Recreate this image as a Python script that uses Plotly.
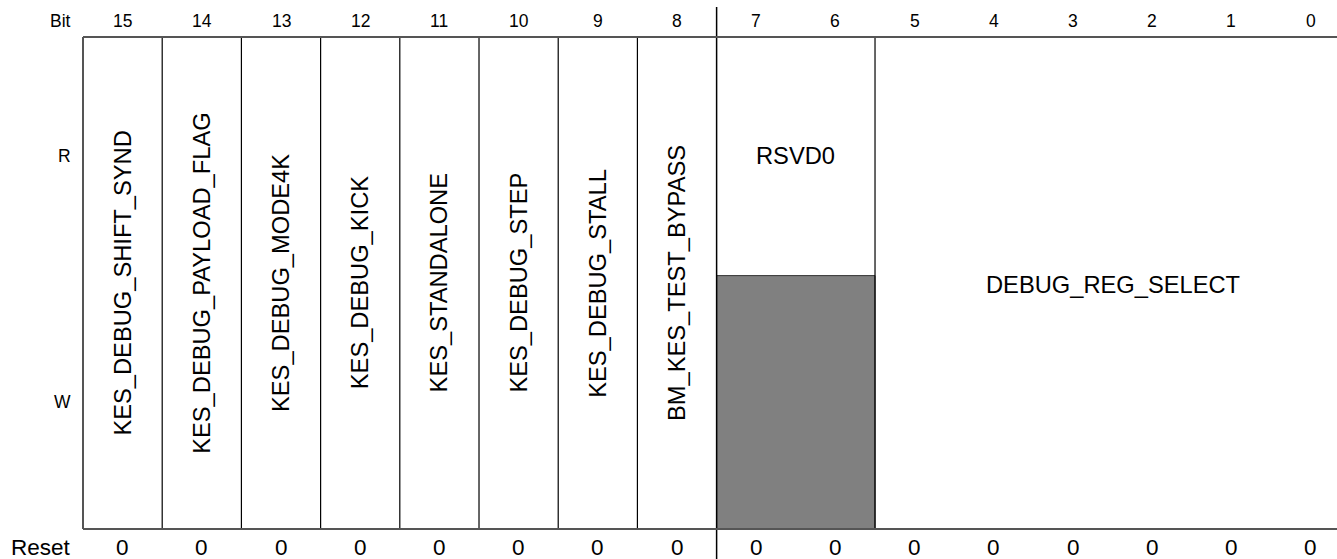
import plotly.graph_objects as go

# ---- data ----
bits = list(range(15, -1, -1))
reset_values = [0] * 16
field_names = ["KES_DEBUG_SHIFT_SYND", "KES_DEBUG_PAYLOAD_FLAG", "KES_DEBUG_MODE4K",
               "KES_DEBUG_KICK", "KES_STANDALONE", "KES_DEBUG_STEP", "KES_DEBUG_STALL",
               "BM_KES_TEST_BYPASS", "RSVD0", "DEBUG_REG_SELECT"]
field_msb = [15, 14, 13, 12, 11, 10, 9, 8, 7, 5]
field_lsb = [15, 14, 13, 12, 11, 10, 9, 8, 6, 0]
field_access = ["RW", "RW", "RW", "RW", "RW", "RW", "RW", "RW", "R", "RW"]
row_labels = ["R", "W"]

# ---- style ----
FONT = "Liberation Sans, Arial, Helvetica, sans-serif"
BORDER = "#555555"
SPLIT = 0.515          # boundary between read and write halves (axis units)
TOP, BOTTOM = 1.0, 0.0

fig = go.Figure()
shapes = []
annotations = []

left_edge = max(bits) + 0.5
right_edge = min(bits) - 0.5

# gray (no-write) areas of read-only fields
for name, msb, lsb, acc in zip(field_names, field_msb, field_lsb, field_access):
    if acc == "R":
        shapes.append(dict(type="rect", xref="x", yref="y", x0=msb + 0.5, x1=lsb - 0.5,
                           y0=BOTTOM, y1=SPLIT, fillcolor="#808080",
                           line=dict(color="#333333", width=1), layer="below"))

# field dividers
for i, (msb, lsb) in enumerate(zip(field_msb, field_lsb)):
    if i == 0:
        continue
    xb = msb + 0.5
    if xb == 7.5:
        # byte boundary, extends past the box
        shapes.append(dict(type="line", xref="x", yref="y", x0=xb, x1=xb, y0=1.061, y1=-0.07,
                           line=dict(color="#000000", width=1.5)))
    else:
        shapes.append(dict(type="line", xref="x", yref="y", x0=xb, x1=xb, y0=BOTTOM, y1=TOP,
                           line=dict(color="#000000", width=1.2)))

# frame: top, bottom, left
shapes.append(dict(type="line", xref="x", yref="y", x0=left_edge, x1=right_edge, y0=TOP, y1=TOP,
                   line=dict(color=BORDER, width=2)))
shapes.append(dict(type="line", xref="x", yref="y", x0=left_edge, x1=right_edge, y0=BOTTOM, y1=BOTTOM,
                   line=dict(color=BORDER, width=2)))
shapes.append(dict(type="line", xref="x", yref="y", x0=left_edge, x1=left_edge, y0=BOTTOM, y1=TOP,
                   line=dict(color=BORDER, width=2)))

# field names
for name, msb, lsb, acc in zip(field_names, field_msb, field_lsb, field_access):
    xc = (msb + lsb) / 2
    if acc == "R":
        yc, ang = (SPLIT + TOP) / 2, 0
    elif msb == lsb:
        yc, ang = (TOP + BOTTOM) / 2, -90
    else:
        yc, ang = (TOP + BOTTOM) / 2 - 0.004, 0
    annotations.append(dict(x=xc, y=yc, xref="x", yref="y", text=name, showarrow=False,
                            textangle=ang, xanchor="center", yanchor="middle",
                            font=dict(family=FONT, size=23.7, color="#000000")))

# bit numbers and reset values
for b, r in zip(bits, reset_values):
    annotations.append(dict(x=b, y=1.0325, xref="x", yref="y", text=str(b), showarrow=False,
                            xanchor="center", yanchor="middle",
                            font=dict(family=FONT, size=17.5, color="#000000")))
    annotations.append(dict(x=b, y=-0.0386, xref="x", yref="y", text=str(r), showarrow=False,
                            xanchor="center", yanchor="middle",
                            font=dict(family=FONT, size=22.5, color="#000000")))

# row labels
label_x = left_edge + 0.13
annotations.append(dict(x=label_x, y=1.0325, xref="x", yref="y", text="Bit", showarrow=False,
                        xanchor="right", yanchor="middle",
                        font=dict(family=FONT, size=17.5, color="#000000")))
annotations.append(dict(x=label_x, y=-0.0386, xref="x", yref="y", text="Reset", showarrow=False,
                        xanchor="right", yanchor="middle",
                        font=dict(family=FONT, size=22.5, color="#000000")))
annotations.append(dict(x=label_x, y=(SPLIT + TOP) / 2, xref="x", yref="y", text=row_labels[0],
                        showarrow=False, xanchor="right", yanchor="middle",
                        font=dict(family=FONT, size=17.5, color="#000000")))
annotations.append(dict(x=label_x, y=(SPLIT + BOTTOM) / 2, xref="x", yref="y", text=row_labels[1],
                        showarrow=False, xanchor="right", yanchor="middle",
                        font=dict(family=FONT, size=17.5, color="#000000")))

fig.update_layout(
    width=1337, height=559,
    margin=dict(l=0, r=0, t=0, b=0),
    paper_bgcolor="white", plot_bgcolor="white",
    shapes=shapes, annotations=annotations,
    showlegend=False,
    xaxis=dict(range=[16.548, -0.333], visible=False, fixedrange=True),
    yaxis=dict(range=[-0.061, 1.0752], visible=False, fixedrange=True),
)

fig.write_html("out.html", config={"displayModeBar": False, "staticPlot": True},
               post_script="document.body.style.margin='0';document.body.style.overflow='hidden';")
